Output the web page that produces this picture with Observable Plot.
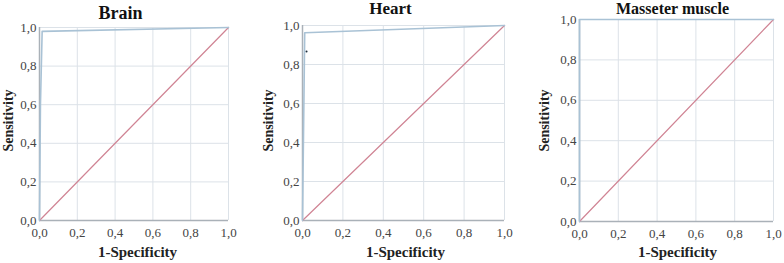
<!DOCTYPE html>
<html>
<head>
<meta charset="utf-8">
<script src="https://cdn.jsdelivr.net/npm/d3@7"></script>
<script src="https://cdn.jsdelivr.net/npm/@observablehq/plot@0.6"></script>
<style>
  html, body { margin: 0; padding: 0; background: #fff; }
  #wrap { position: relative; width: 784px; height: 263px; overflow: hidden; }
  #wrap svg { position: absolute; top: 0; }
  #wrap svg text { font-family: "Liberation Serif", "DejaVu Serif", serif !important; }
</style>
</head>
<body>
<div id="wrap"></div>
<script>
// Data
const panelTitles = ["Brain", "Heart", "Masseter muscle"];
const ticks = [0, 0.2, 0.4, 0.6, 0.8, 1.0];
const xLabel = "1-Specificity";
const yLabel = "Sensitivity";

const brainFpr = [0, 0.005, 0.014, 1];
const brainTpr = [0, 0.6, 0.98, 1];
const heartFpr = [0, 0.011, 1];
const heartTpr = [0, 0.963, 1];
const heartDotFpr = [0.02];
const heartDotTpr = [0.867];
const masseterFpr = [0, 0, 1];
const masseterTpr = [0, 1, 1];
const refLine = [0, 1];

const fmt = d => d.toFixed(1).replace(".", ",");
const serif = "Liberation Serif";

function panel(cfg) {
  const curve = cfg.fpr.map((f, i) => ({x: f, y: cfg.tpr[i]}));
  const diag = refLine.map(v => ({x: v, y: v}));
  const dots = (cfg.dotX || []).map((f, i) => ({x: f, y: cfg.dotY[i]}));
  const svg = Plot.plot({
    width: cfg.width,
    height: cfg.height,
    marginLeft: cfg.ml,
    marginRight: cfg.mr,
    marginTop: cfg.mt,
    marginBottom: cfg.mb,
    style: {fontSize: "12px", color: "#555", background: "transparent"},
    x: {domain: [0, 1], ticks, tickFormat: fmt, label: null},
    y: {domain: [0, 1], ticks, tickFormat: fmt, label: null},
    marks: [
      Plot.gridX(ticks, {stroke: "#dce2e8", strokeOpacity: 1}),
      Plot.gridY(ticks, {stroke: "#dce2e8", strokeOpacity: 1}),
      Plot.ruleX([0], {stroke: "#aab1b8", strokeWidth: 1.5}),
      Plot.ruleY([0], {stroke: "#aab1b8", strokeWidth: 1.5}),
      Plot.line(diag, {x: "x", y: "y", stroke: "#d08494", strokeWidth: 1.2}),
      Plot.line(curve, {x: "x", y: "y", stroke: "#a9c2d5", strokeWidth: 1.6}),
      Plot.dot(dots, {x: "x", y: "y", r: 1, fill: "#1a2a3a", stroke: "none"}),
      Plot.axisX(ticks, {tickSize: 0, tickPadding: 7, tickFormat: fmt, fill: "#444", fontSize: 13, fontFamily: serif}),
      Plot.axisY(ticks, {tickSize: 0, tickPadding: 3, tickFormat: fmt, fill: "#444", fontSize: 13, fontFamily: serif}),
      Plot.text([cfg.title], {frameAnchor: "top-left", lineAnchor: "middle", dx: cfg.titleX - cfg.ml, dy: cfg.titleY - cfg.mt,
        textAnchor: "middle", fontWeight: "bold", fontSize: cfg.titleSize, fill: "#111", fontFamily: serif}),
      Plot.text([xLabel], {frameAnchor: "top-left", lineAnchor: "middle", dx: cfg.xlX - cfg.ml, dy: cfg.xlY - cfg.mt,
        textAnchor: "middle", fontWeight: "bold", fontSize: 15, fill: "#222", fontFamily: serif}),
      Plot.text([yLabel], {frameAnchor: "top-left", lineAnchor: "middle", dx: cfg.ylX - cfg.ml, dy: cfg.ylY - cfg.mt,
        textAnchor: "middle", rotate: -90, fontWeight: "bold", fontSize: 14, fill: "#222", fontFamily: serif})
    ]
  });
  svg.style.left = cfg.left + "px";
  document.getElementById("wrap").appendChild(svg);
}

panel({title: panelTitles[0], left: 0, width: 240, height: 263, ml: 39, mr: 12, mt: 27, mb: 43,
  fpr: brainFpr, tpr: brainTpr, titleX: 120, titleY: 13, titleSize: 18,
  xlX: 137, xlY: 252, ylX: 8, ylY: 120});
panel({title: panelTitles[1], left: 260, width: 260, height: 263, ml: 42, mr: 16, mt: 25, mb: 43,
  fpr: heartFpr, tpr: heartTpr, dotX: heartDotFpr, dotY: heartDotTpr, titleX: 130, titleY: 8, titleSize: 17,
  xlX: 145, xlY: 252, ylX: 8, ylY: 120});
panel({title: panelTitles[2], left: 520, width: 264, height: 263, ml: 59, mr: 11, mt: 19, mb: 42,
  fpr: masseterFpr, tpr: masseterTpr, titleX: 152, titleY: 8, titleSize: 16,
  xlX: 157, xlY: 252, ylX: 24, ylY: 120});
</script>
</body>
</html>
